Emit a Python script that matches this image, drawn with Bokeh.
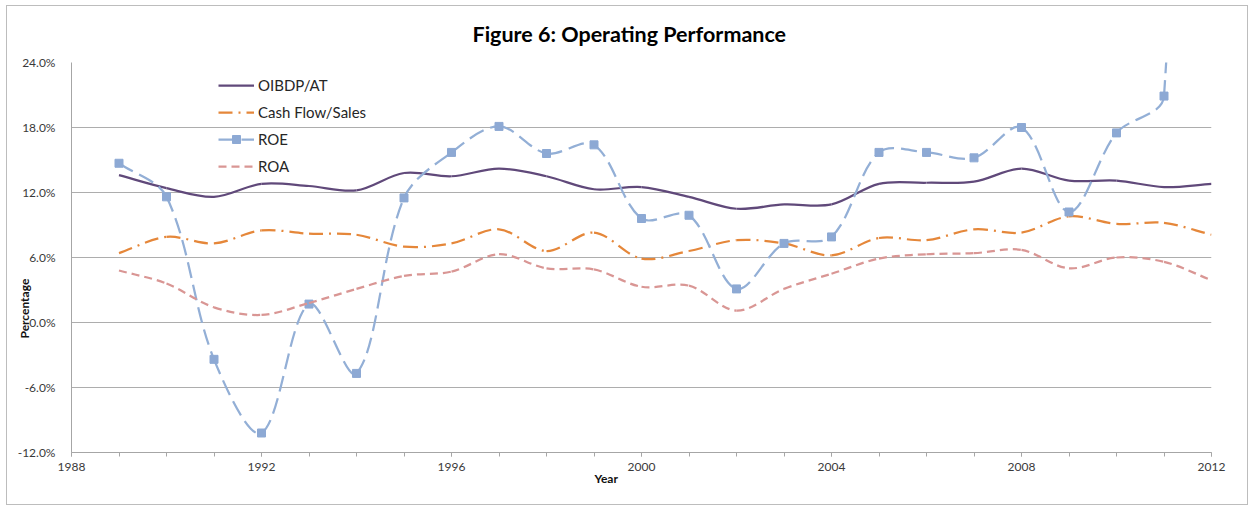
import math
import numpy as np
from bokeh.plotting import figure
from bokeh.models import (FixedTicker, PrintfTickFormatter, Legend,
                          LegendItem, Range1d, Title)
from bokeh.embed import file_html
from bokeh.resources import INLINE

# ---------------- data ----------------
years = list(range(1989, 2013))
oibdp_at = [13.6, 12.4, 11.6, 12.8, 12.6, 12.2, 13.8, 13.5, 14.2, 13.5, 12.3, 12.5,
            11.6, 10.5, 10.9, 10.9, 12.8, 12.9, 13.0, 14.2, 13.1, 13.1, 12.5, 12.8]
cash_flow_sales = [6.4, 7.9, 7.3, 8.5, 8.2, 8.1, 7.0, 7.3, 8.6, 6.6, 8.3, 5.9,
                   6.6, 7.6, 7.3, 6.2, 7.8, 7.6, 8.6, 8.3, 9.8, 9.1, 9.2, 8.1]
roe = [14.7, 11.6, -3.4, -10.2, 1.7, -4.7, 11.5, 15.7, 18.1, 15.6, 16.4, 9.6,
       9.9, 3.1, 7.3, 7.9, 15.7, 15.7, 15.2, 18.0, 10.2, 17.5, 20.9, 150.0]
roa = [4.8, 3.6, 1.4, 0.7, 1.8, 3.1, 4.3, 4.7, 6.3, 5.0, 4.9, 3.3,
       3.4, 1.1, 3.1, 4.5, 5.9, 6.3, 6.4, 6.7, 5.0, 6.0, 5.6, 3.9]

y_ticks = [-12, -6, 0, 6, 12, 18, 24]
x_ticks = [1988, 1992, 1996, 2000, 2004, 2008, 2012]

# ---------------- smoothing (Excel-like bezier between points) ----------------
PX_PER_YEAR = 47.5
PX_PER_PCT = 390 / 36.0


def smooth(xs, ys, f=1.0 / 3.0):
    X = np.asarray(xs, float)
    Y = np.asarray(ys, float)
    n = len(X)
    cox, coy, cix, ciy = (np.zeros(n) for _ in range(4))
    for i in range(n):
        a = max(i - 1, 0)
        b = min(i + 1, n - 1)
        tx, ty = X[b] - X[a], Y[b] - Y[a]
        dp = math.hypot((X[i] - X[a]) * PX_PER_YEAR, (Y[i] - Y[a]) * PX_PER_PCT)
        dn = math.hypot((X[b] - X[i]) * PX_PER_YEAR, (Y[b] - Y[i]) * PX_PER_PCT)
        s = dp + dn
        ko = f * dn / s if s else 0.0
        ki = f * dp / s if s else 0.0
        cox[i], coy[i] = X[i] + tx * ko, Y[i] + ty * ko
        cix[i], ciy[i] = X[i] - tx * ki, Y[i] - ty * ki
    return dict(x0=X[:-1], y0=Y[:-1], x1=X[1:], y1=Y[1:],
                cx0=cox[:-1], cy0=coy[:-1], cx1=cix[1:], cy1=ciy[1:])


FONT = "Lato"

p = figure(width=1242, height=500, output_backend="svg", toolbar_location=None,
           x_range=Range1d(1988, 2012), y_range=Range1d(-12, 24),
           min_border_left=64, min_border_right=38, min_border_top=56,
           min_border_bottom=54, background_fill_color="white",
           border_fill_color="white", title=None)
p.styles = {"border": "1px solid #BDBDBD", "margin-left": "6px", "margin-top": "5px"}
p.outline_line_color = None

# axes
p.yaxis.ticker = FixedTicker(ticks=y_ticks)
p.yaxis.formatter = PrintfTickFormatter(format="%.1f%%")
p.yaxis.major_tick_line_color = None
p.yaxis.minor_tick_line_color = None
p.yaxis.axis_line_color = "#A6A6A6"
p.yaxis.major_label_standoff = 10
p.yaxis.major_label_text_font = FONT
p.yaxis.major_label_text_font_size = "12px"
p.yaxis.major_label_text_color = "#3A3A3A"

p.xaxis.ticker = FixedTicker(ticks=x_ticks, minor_ticks=list(range(1988, 2013)))
p.xaxis.axis_line_color = "#A6A6A6"
p.xaxis.major_tick_line_color = "#A6A6A6"
p.xaxis.minor_tick_line_color = "#A6A6A6"
p.xaxis.major_tick_in = 0
p.xaxis.major_tick_out = 4
p.xaxis.minor_tick_in = 0
p.xaxis.minor_tick_out = 4
p.xaxis.major_label_standoff = 6
p.xaxis.major_label_text_font = FONT
p.xaxis.major_label_text_font_size = "12px"
p.xaxis.major_label_text_color = "#3A3A3A"

p.xgrid.grid_line_color = None
p.ygrid.ticker = FixedTicker(ticks=y_ticks)
p.ygrid.grid_line_color = "#ADADAD"
p.ygrid.grid_line_width = 1

# series
r_oibdp = p.bezier(source=smooth(years, oibdp_at), x0="x0", y0="y0", x1="x1", y1="y1",
                   cx0="cx0", cy0="cy0", cx1="cx1", cy1="cy1",
                   line_color="#60497A", line_width=2.25)
r_cf = p.bezier(source=smooth(years, cash_flow_sales), x0="x0", y0="y0", x1="x1", y1="y1",
                cx0="cx0", cy0="cy0", cx1="cx1", cy1="cy1",
                line_color="#E5873A", line_width=2.25, line_dash="14 6 2 6")
r_roe = p.bezier(source=smooth(years, roe), x0="x0", y0="y0", x1="x1", y1="y1",
                 cx0="cx0", cy0="cy0", cx1="cx1", cy1="cy1",
                 line_color="#93AFD6", line_width=2.25, line_dash="16 7")
r_roe_m = p.scatter(years, roe, marker="square", size=8, fill_color="#8DA9D4",
                    line_color="#8DA9D4")
r_roa = p.bezier(source=smooth(years, roa), x0="x0", y0="y0", x1="x1", y1="y1",
                 cx0="cx0", cy0="cy0", cx1="cx1", cy1="cy1",
                 line_color="#D99694", line_width=2.25, line_dash="8 5")

legend = Legend(items=[
    LegendItem(label="OIBDP/AT", renderers=[r_oibdp]),
    LegendItem(label="Cash Flow/Sales", renderers=[r_cf]),
    LegendItem(label="ROE", renderers=[r_roe, r_roe_m]),
    LegendItem(label="ROA", renderers=[r_roa]),
], location=(142, 271), margin=0, padding=5, spacing=7,
    glyph_width=36, glyph_height=20, label_height=20, label_standoff=4,
    label_text_font=FONT, label_text_font_size="15px", label_text_color="#262626",
    border_line_alpha=0, background_fill_alpha=0)
p.add_layout(legend, "center")

# texts
p.add_layout(Title(text="Figure 6: Operating Performance", align="left", offset=401,
                   standoff=28, vertical_align="top", text_font=FONT,
                   text_font_size="21.5px", text_font_style="bold",
                   text_color="#000000"), "above")
p.add_layout(Title(text="Year", align="left", offset=523, standoff=-9,
                   text_font=FONT, text_font_size="12px", text_font_style="bold",
                   text_color="#111111"), "below")
p.add_layout(Title(text="Percentage", align="left", offset=114, standoff=-34,
                   text_font=FONT, text_font_size="12px", text_font_style="bold",
                   text_color="#111111"), "left")

open("out.html", "w").write(file_html(p, INLINE))
